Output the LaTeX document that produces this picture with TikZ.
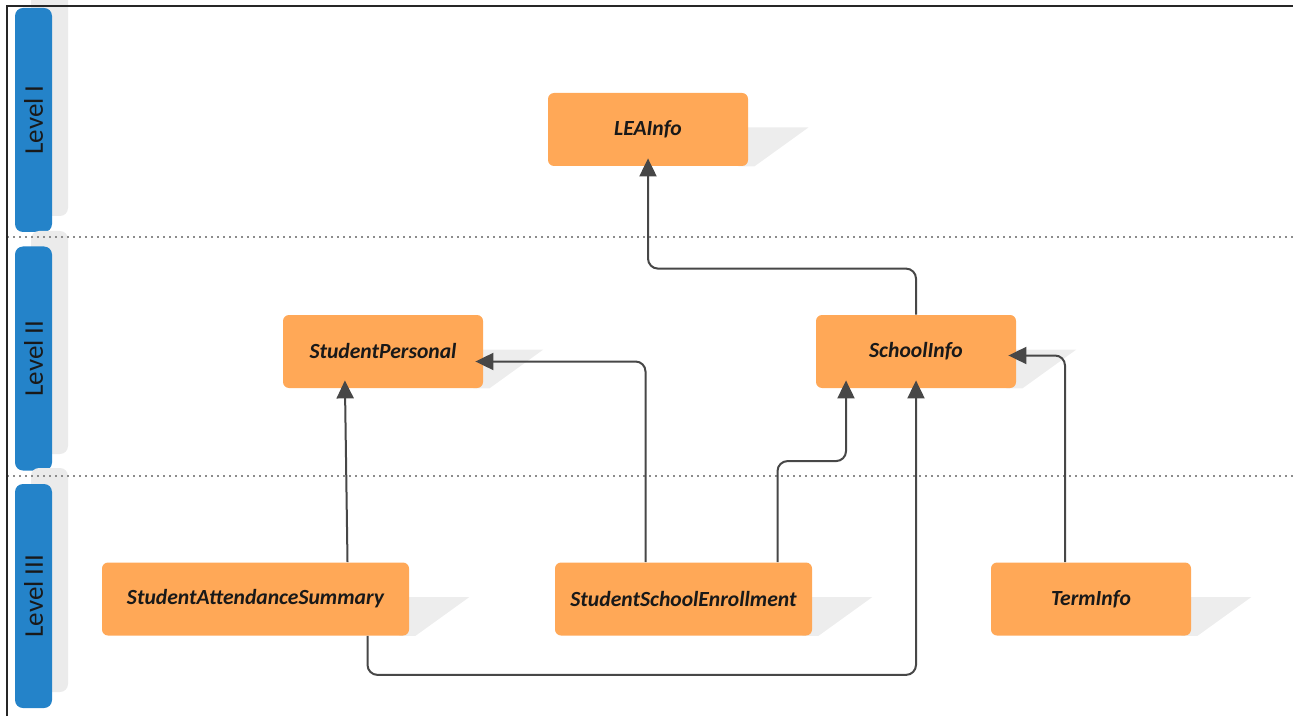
\documentclass[tikz,border=0pt]{standalone}
\usepackage{fontspec}
\setmainfont{Carlito}
\usepackage{xcolor}
\definecolor{colorBox}{RGB}{255,168,87}
\definecolor{colorLevel}{RGB}{36,131,201}
\colorlet{colorLevelShade}{black!8}
\colorlet{colorShadow}{black!7}
\colorlet{colorArrow}{black!72}
\colorlet{colorSep}{black!45}
\usepackage{tikz}
\usetikzlibrary{arrows.meta, positioning, backgrounds}
\tikzset{
  entity/.style={rectangle, rounded corners=3pt, fill=colorBox, minimum width=100pt, minimum height=36.5pt, font=\fontsize{10.8}{13}\selectfont\bfseries\itshape, text=black!90},
  levelbar/.style={rectangle, rounded corners=4pt, fill=colorLevel, rotate=90, minimum width=112pt, minimum height=18.5pt, font=\fontsize{13.5}{16}\selectfont, text=black!90},
  link/.style={draw=colorArrow, line width=1pt, rounded corners=5pt, shorten >=-4pt},
  sep/.style={draw=colorSep, line width=0.6pt, dash pattern=on 1pt off 2pt},
  frame/.style={draw=black!85, line width=0.9pt}
}

\begin{document}
\begin{tikzpicture}[x=0.5pt, y=-0.5pt, >={Triangle[length=9pt, width=8.5pt]}]
\useasboundingbox (0,0) rectangle (1293,716);

% level bands
\foreach \lbl/\ya/\yb [count=\i] in {I/8/232, II/247/470, III/484/708} {
  \fill[colorLevelShade, rounded corners=4pt] (31,\ya-16) rectangle (68,\yb-16);
  \node[levelbar] (level\i) at (33.5,{(\ya+\yb)/2}) {Level \lbl};
}
\draw[sep] (7,237) -- (1293,237);
\draw[sep] (7,476) -- (1293,476);
\draw[frame] (7,716) -- (7,6) -- (1293,6);

% entities
\node[entity] (lea) at (648,129.5) {LEAInfo};
\node[entity] (sp) at (383,351.5) {StudentPersonal};
\node[entity] (si) at (916,351.5) {SchoolInfo};
\node[entity, minimum width=153.5pt] (sas) at (255.5,599) {StudentAttendanceSummary};
\node[entity, minimum width=128.5pt] (sse) at (683.5,599) {StudentSchoolEnrollment};
\node[entity] (ti) at (1091,599) {TermInfo};

\begin{scope}[on background layer]
\foreach \n in {lea, sp, si, sas, sse, ti}
  \fill[colorShadow] ([xshift=-5pt, yshift=1pt]\n.east) -- ++(70,0) -- ([xshift=3pt]\n.south east) -- ([xshift=-5pt]\n.south east) -- cycle;
\end{scope}

% references
\draw[link, ->] (si.north) -- ++(0,-46) -| (lea.south);
\draw[link, ->] ([xshift=46pt]sas.north) -- ([xshift=-19pt]sp.south);
\draw[link, ->] ([xshift=-19pt]sse.north) |- ([yshift=-5pt]sp.east);
\draw[link, ->] ([xshift=47pt]sse.north) -- ++(0,-101) -| ([xshift=-35pt]si.south);
\draw[link, ->] ([xshift=56pt]sas.south) -- ++(0,39) -| (si.south);
\draw[link, ->] ([xshift=-13pt]ti.north) |- ([yshift=-2pt]si.east);
\end{tikzpicture}
\end{document}
